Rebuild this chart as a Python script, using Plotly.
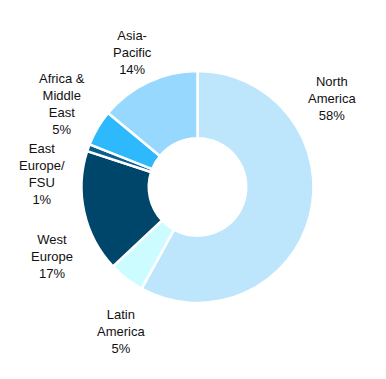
import plotly.graph_objects as go

labels = ["North<br>America", "Latin<br>America", "West<br>Europe", "East<br>Europe/<br>FSU",
          "Africa &<br>Middle<br>East", "Asia-<br>Pacific"]
values = [58, 5, 17, 1, 5, 14]
colors = ["#bde6fc", "#ccfcff", "#00466a", "#0a5e90", "#2db9fc", "#96d8fe"]
# label centres in window pixels (x, y from top)
label_pos = [(332, 99), (121, 331), (52, 256), (42, 174), (62, 104), (132, 52)]

OFF = 8  # browser body margin
W, H = 386 - 2 * OFF, 379 - 2 * OFF


def px_x(x):
    return (x - OFF) / W


def px_y(y):
    return 1 - (y - OFF) / H


fig = go.Figure(go.Pie(
    labels=labels, values=values, sort=False, direction="clockwise", rotation=0,
    hole=0.42, marker=dict(colors=colors, line=dict(color="white", width=2.5)),
    textinfo="none", hoverinfo="label+percent", showlegend=False,
    domain=dict(x=[px_x(81.5), px_x(313.5)], y=[px_y(303), px_y(71)]),
))

for lab, val, (px, py) in zip(labels, values, label_pos):
    fig.add_annotation(x=px_x(px), y=px_y(py), xref="paper", yref="paper",
                       text=f"{lab}<br>{val}%", showarrow=False, align="center",
                       xanchor="center", yanchor="middle",
                       font=dict(family="Liberation Sans, Arial, sans-serif", size=13, color="#111111"))

fig.update_layout(width=W, height=H, margin=dict(l=0, r=0, t=0, b=0),
                  paper_bgcolor="white", plot_bgcolor="white")
fig.write_html("out.html")
